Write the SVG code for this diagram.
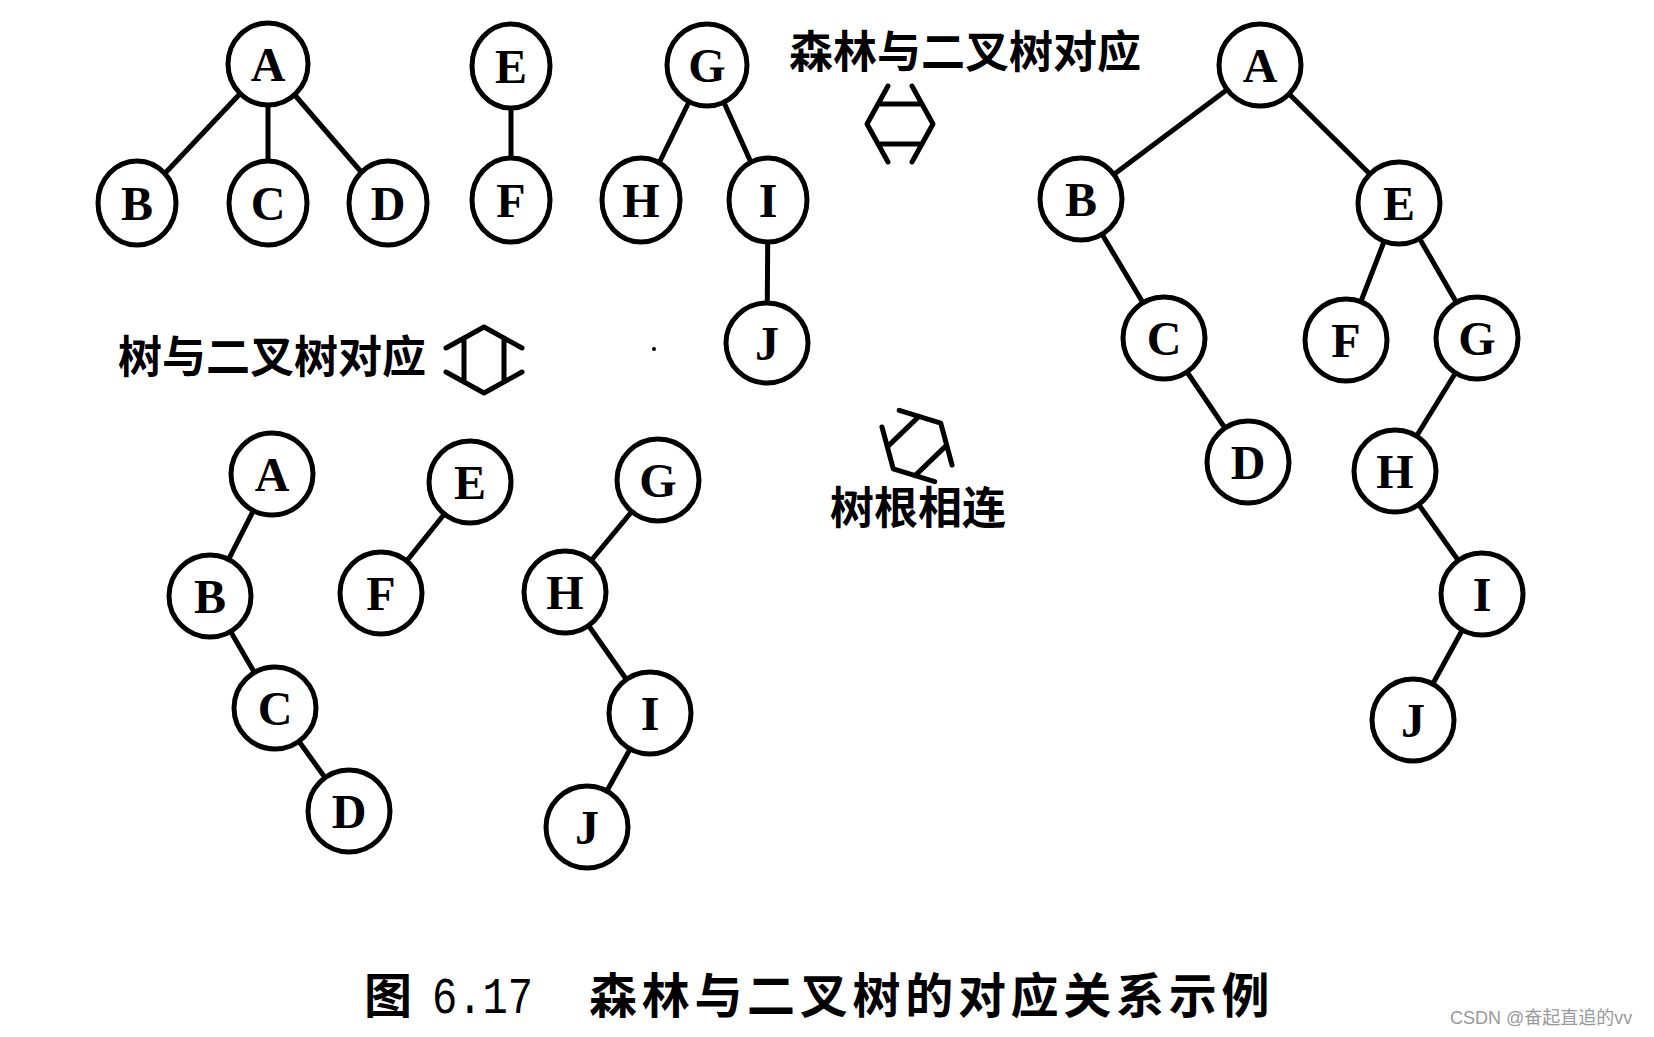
<svg xmlns="http://www.w3.org/2000/svg" xmlns:xlink="http://www.w3.org/1999/xlink" width="1654" height="1037" viewBox="0 0 1654 1037">
<style>
  .edge { stroke: #000; stroke-width: 5; stroke-linecap: round; fill: none; }
  .node { fill: #fff; stroke: #000; stroke-width: 5; }
  .lbl { font-family: "Liberation Serif", "DejaVu Serif", serif; font-weight: 700; font-size: 48px; text-anchor: middle; fill: #000; }
  .cjk { font-family: "Noto Sans CJK SC", sans-serif; font-weight: 700; font-size: 44px; fill: #000; }
  .cap { font-family: "Noto Sans CJK SC", sans-serif; font-weight: 700; font-size: 48px; fill: #000; }
  .sym { stroke: #000; stroke-width: 5; fill: none; stroke-linecap: round; stroke-linejoin: round; }
</style>
<defs>
  <path id="hexsym" class="sym" d="M -12,-38 L -33,0 L -12,38 M 12,-38 L 33,0 L 12,38 M -22,-20 L 22,-20 M -22,20 L 22,20"/>
</defs>
<rect width="1654" height="1037" fill="#fff"/>

<g id="connectors">
  <!-- forest top-left -->
  <line class="edge" x1="268" y1="64" x2="137" y2="203"/>
  <line class="edge" x1="268" y1="64" x2="268" y2="203"/>
  <line class="edge" x1="268" y1="64" x2="388" y2="203"/>
  <line class="edge" x1="511" y1="66" x2="511" y2="200"/>
  <line class="edge" x1="707" y1="65" x2="641" y2="200"/>
  <line class="edge" x1="707" y1="65" x2="768" y2="200"/>
  <line class="edge" x1="768" y1="200" x2="767" y2="343"/>
  <!-- bottom-left binary trees -->
  <line class="edge" x1="272" y1="474" x2="210" y2="596"/>
  <line class="edge" x1="210" y1="596" x2="275" y2="708"/>
  <line class="edge" x1="275" y1="708" x2="349" y2="811"/>
  <line class="edge" x1="470" y1="482" x2="381" y2="593"/>
  <line class="edge" x1="658" y1="480" x2="565" y2="592"/>
  <line class="edge" x1="565" y1="592" x2="650" y2="713"/>
  <line class="edge" x1="650" y1="713" x2="587" y2="827"/>
  <!-- right binary tree -->
  <line class="edge" x1="1260" y1="65" x2="1081" y2="199"/>
  <line class="edge" x1="1260" y1="65" x2="1399" y2="203"/>
  <line class="edge" x1="1081" y1="199" x2="1164" y2="338"/>
  <line class="edge" x1="1164" y1="338" x2="1248" y2="462"/>
  <line class="edge" x1="1399" y1="203" x2="1346" y2="340"/>
  <line class="edge" x1="1399" y1="203" x2="1477" y2="338"/>
  <line class="edge" x1="1477" y1="338" x2="1395" y2="471"/>
  <line class="edge" x1="1395" y1="471" x2="1482" y2="594"/>
  <line class="edge" x1="1482" y1="594" x2="1413" y2="720"/>
</g>

<!-- forest (top-left) -->
<g id="f-A"><ellipse class="node" cx="268" cy="64" rx="40" ry="41"/><text class="lbl" x="268" y="81">A</text></g>
<g id="f-B"><ellipse class="node" cx="137" cy="203" rx="39" ry="42"/><text class="lbl" x="137" y="220">B</text></g>
<g id="f-C"><ellipse class="node" cx="268" cy="203" rx="39" ry="42"/><text class="lbl" x="268" y="220">C</text></g>
<g id="f-D"><ellipse class="node" cx="388" cy="203" rx="39" ry="42"/><text class="lbl" x="388" y="220">D</text></g>
<g id="f-E"><ellipse class="node" cx="511" cy="66" rx="39" ry="42"/><text class="lbl" x="511" y="83">E</text></g>
<g id="f-F"><ellipse class="node" cx="511" cy="200" rx="39" ry="42"/><text class="lbl" x="511" y="217">F</text></g>
<g id="f-G"><ellipse class="node" cx="707" cy="65" rx="40" ry="41"/><text class="lbl" x="707" y="82">G</text></g>
<g id="f-H"><ellipse class="node" cx="641" cy="200" rx="39" ry="42"/><text class="lbl" x="641" y="217">H</text></g>
<g id="f-I"><ellipse class="node" cx="768" cy="200" rx="39" ry="42"/><text class="lbl" x="768" y="217">I</text></g>
<g id="f-J"><ellipse class="node" cx="767" cy="343" rx="41" ry="40"/><text class="lbl" x="767" y="360">J</text></g>

<!-- bottom-left binary trees -->
<g id="b-A"><circle class="node" cx="272" cy="474" r="41"/><text class="lbl" x="272" y="491">A</text></g>
<g id="b-B"><circle class="node" cx="210" cy="596" r="41"/><text class="lbl" x="210" y="613">B</text></g>
<g id="b-C"><circle class="node" cx="275" cy="708" r="41"/><text class="lbl" x="275" y="725">C</text></g>
<g id="b-D"><circle class="node" cx="349" cy="811" r="41"/><text class="lbl" x="349" y="828">D</text></g>
<g id="b-E"><circle class="node" cx="470" cy="482" r="41"/><text class="lbl" x="470" y="499">E</text></g>
<g id="b-F"><circle class="node" cx="381" cy="593" r="41"/><text class="lbl" x="381" y="610">F</text></g>
<g id="b-G"><circle class="node" cx="658" cy="480" r="41"/><text class="lbl" x="658" y="497">G</text></g>
<g id="b-H"><circle class="node" cx="565" cy="592" r="41"/><text class="lbl" x="565" y="609">H</text></g>
<g id="b-I"><circle class="node" cx="650" cy="713" r="41"/><text class="lbl" x="650" y="730">I</text></g>
<g id="b-J"><circle class="node" cx="587" cy="827" r="41"/><text class="lbl" x="587" y="844">J</text></g>

<!-- right binary tree -->
<g id="r-A"><circle class="node" cx="1260" cy="65" r="41"/><text class="lbl" x="1260" y="82">A</text></g>
<g id="r-B"><circle class="node" cx="1081" cy="199" r="41"/><text class="lbl" x="1081" y="216">B</text></g>
<g id="r-E"><circle class="node" cx="1399" cy="203" r="41"/><text class="lbl" x="1399" y="220">E</text></g>
<g id="r-C"><circle class="node" cx="1164" cy="338" r="41"/><text class="lbl" x="1164" y="355">C</text></g>
<g id="r-F"><circle class="node" cx="1346" cy="340" r="41"/><text class="lbl" x="1346" y="357">F</text></g>
<g id="r-G"><circle class="node" cx="1477" cy="338" r="41"/><text class="lbl" x="1477" y="355">G</text></g>
<g id="r-D"><circle class="node" cx="1248" cy="462" r="41"/><text class="lbl" x="1248" y="479">D</text></g>
<g id="r-H"><circle class="node" cx="1395" cy="471" r="41"/><text class="lbl" x="1395" y="488">H</text></g>
<g id="r-I"><circle class="node" cx="1482" cy="594" r="41"/><text class="lbl" x="1482" y="611">I</text></g>
<g id="r-J"><circle class="node" cx="1413" cy="720" r="41"/><text class="lbl" x="1413" y="737">J</text></g>

<!-- labels and correspondence symbols -->
<g id="label-forest">
  <text class="cjk" x="789" y="68">森林与二叉树对应</text>
  <use xlink:href="#hexsym" href="#hexsym" transform="translate(900,124)"/>
</g>
<g id="label-tree">
  <text class="cjk" x="118" y="373">树与二叉树对应</text>
  <use xlink:href="#hexsym" href="#hexsym" transform="translate(484,360) rotate(90)"/>
</g>
<g id="label-roots">
  <use xlink:href="#hexsym" href="#hexsym" transform="translate(917,446) rotate(-44)"/>
  <text class="cjk" x="830" y="524">树根相连</text>
</g>
<circle cx="654" cy="349" r="2" fill="#000"/>

<g id="caption">
  <text class="cap" x="364" y="1013">图</text>
  <text x="432" y="1013" font-family="Liberation Mono, monospace" font-size="52" textLength="101" lengthAdjust="spacingAndGlyphs">6.17</text>
  <text class="cap" x="589" y="1013" letter-spacing="4.7">森林与二叉树的对应关系示例</text>
</g>
<text x="1450" y="1024" font-family="Liberation Sans, Noto Sans CJK SC, sans-serif" font-size="18" fill="#9a9a9a">CSDN @奋起直追的vv</text>
</svg>
